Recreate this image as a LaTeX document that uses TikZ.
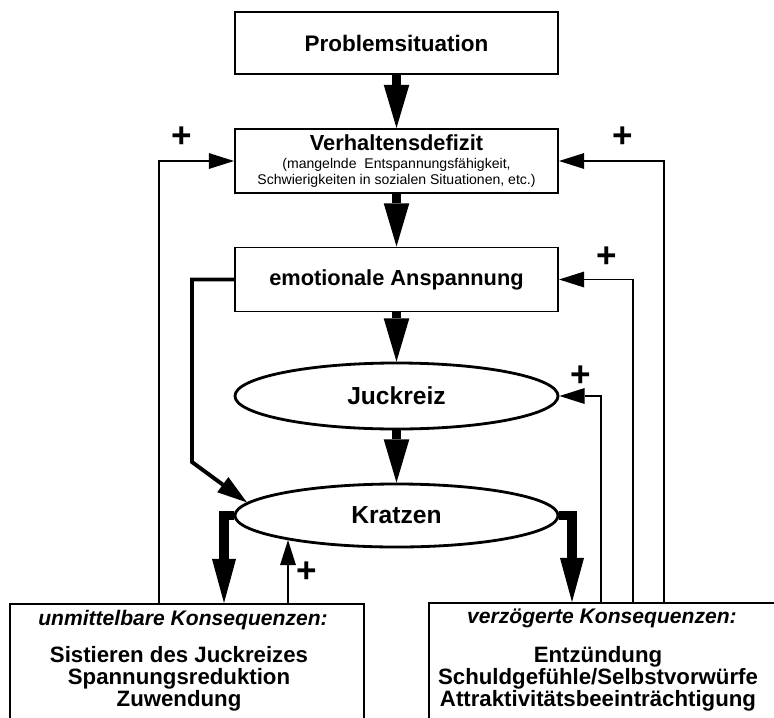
\documentclass[tikz,border=0pt]{standalone}
\usepackage{fontspec}
\setmainfont{Liberation Sans}
\usetikzlibrary{shapes.geometric,arrows.meta,calc}

\tikzset{
  box/.style={draw, line width=1.4pt, inner sep=0pt, minimum width=8.075cm, minimum height=1.6cm, align=center},
  oval/.style={draw, ellipse, line width=2pt, inner sep=0pt, minimum width=8.075cm, minimum height=1.65cm, font=\bfseries\fontsize{17.5}{20}\selectfont},
  kbox/.style={draw, line width=1.4pt, inner sep=0pt, anchor=north, minimum height=3.25cm},
  khead/.style={font=\bfseries\itshape\fontsize{15}{18}\selectfont, inner sep=0pt},
  klist/.style={font=\bfseries\fontsize{15.8}{15.8}\selectfont, align=center, inner sep=0pt},
  flow/.style={line width=6.5pt, -{Triangle[length=1.08cm,width=0.64cm,line width=0pt]}},
  outflow/.style={line width=6.5pt, -{Triangle[length=1.1cm,width=0.6cm,line width=0pt]}},
  mid/.style={line width=2.8pt, -{Triangle[length=0.75cm,width=0.47cm,line width=0pt]}},
  back/.style={line width=1.1pt, -{Triangle[length=0.63cm,width=0.4cm,line width=0pt]}},
  plus/.style={font=\bfseries\fontsize{25}{25}\selectfont, inner sep=0pt},
}

\begin{document}
\begin{tikzpicture}[x=0.025cm,y=-0.025cm]
\useasboundingbox (0,0) rectangle (774,717);
\clip (0,0) rectangle (774,717);

% main chain
\node[box, minimum height=1.55cm, font=\bfseries\fontsize{16}{18}\selectfont] (prob) at (396.5,43) {Problemsituation};
\node[box, font=\fontsize{10}{11.3}\selectfont] (defizit) at (396.5,161) {\textbf{\fontsize{15.5}{17}\selectfont Verhaltensdefizit}\\[2pt]
  (mangelnde\ \ Entspannungsfähigkeit,\\Schwierigkeiten\ in\ sozialen\ Situationen,\ etc.)};
\node[box, font=\bfseries\fontsize{15.5}{18}\selectfont] (anspannung) at (396.5,279.5) {emotionale Anspannung};
\node[oval] (juck) at (396.5,396) {Juckreiz};
\node[oval, minimum height=1.575cm] (kratz) at (396.5,515.5) {Kratzen};

% consequences
\node[kbox, minimum width=8.85cm] (sofort) at (187,603) {};
\node[kbox, minimum width=8.725cm] (spaet) at (603.5,602) {};
\node[khead] (sofortkopf) at (183,620) {unmittelbare Konsequenzen:};
\node[klist] (sofortliste) at (179,679) {Sistieren des Juckreizes\\Spannungsreduktion\\Zuwendung};
\node[khead] (spaetkopf) at (602,618) {verzögerte Konsequenzen:};
\node[klist] (spaetliste) at (598,679) {Entzündung\\Schuldgefühle/Selbstvorwürfe\\Attraktivitätsbeeinträchtigung};

\coordinate (lk) at (224,603);
\coordinate (rk) at (572,602);
\coordinate (f1) at (159,603);
\coordinate (f2) at (288,603);
\coordinate (kb) at (288,540);
\coordinate (f3) at (601,602);
\coordinate (f4) at (633,602);
\coordinate (f5) at (664,602);

\draw[flow] (prob) -- (defizit);
\draw[flow] (defizit) -- (anspannung);
\draw[flow] (anspannung) -- (juck);
\draw[flow] (juck) -- (kratz);

\draw[outflow] (kratz.west) -| (lk);
\draw[outflow] (kratz.east) -| (rk);
\draw[mid] (anspannung.west) -| (192,462) -- (kratz.175);

% feedback loops
\draw[back] (f1) |- (defizit.west);
\draw[back] (f2) -- (kb);
\draw[back] (f3) |- (juck.east);
\draw[back] (f4) |- (anspannung.east);
\draw[back] (f5) |- (defizit.east);

\node[plus] (p1) at (182,137) {+};
\node[plus] (p2) at (307,572) {+};
\node[plus] (p3) at (581,376) {+};
\node[plus] (p4) at (607,257) {+};
\node[plus] (p5) at (623,137) {+};
\end{tikzpicture}
\end{document}
